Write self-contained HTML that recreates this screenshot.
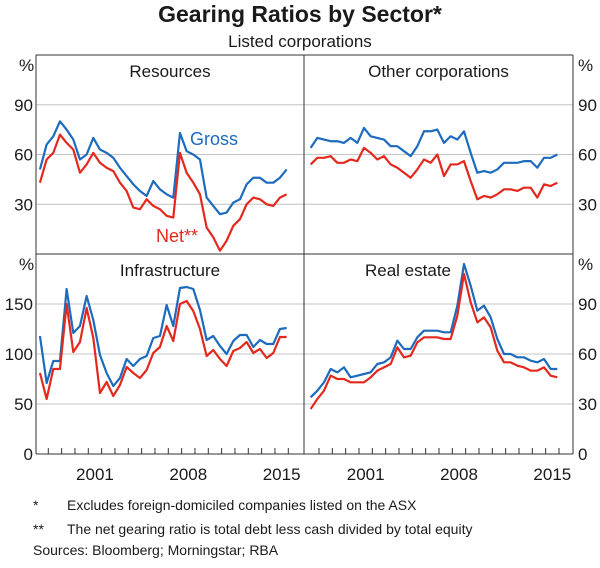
<!DOCTYPE html>
<html><head><meta charset="utf-8"><style>
body{margin:0;background:#fff;}
svg text{font-family:"Liberation Sans",Arial,sans-serif;fill:#1a1a1a;}
</style></head><body>
<svg id="chart" width="600" height="563" viewBox="0 0 600 563" xmlns="http://www.w3.org/2000/svg">
<text x="300" y="22" text-anchor="middle" font-size="23" font-weight="bold">Gearing Ratios by Sector*</text>
<text x="300" y="47" text-anchor="middle" font-size="17">Listed corporations</text>
<g id="grid"></g>
<g id="series"></g>
<g id="frame"></g>
<g id="labels"></g>
<text x="33" y="510" font-size="14">*</text>
<text x="67" y="510" font-size="14">Excludes foreign-domiciled companies listed on the ASX</text>
<text x="33" y="534" font-size="14">**</text>
<text x="67" y="534" font-size="14">The net gearing ratio is total debt less cash divided by total equity</text>
<text x="33" y="555" font-size="14">Sources:  Bloomberg; Morningstar; RBA</text>
</svg>
<script>
const startYear = 1997.375;
const yearLabels = [2001, 2008, 2015];
const ticksTop = [30, 60, 90];
const ticksInfra = [0, 50, 100, 150];
const ticksReal = [0, 30, 60, 90];
const resGross = [51,66,71,80,75,69,57,60,70,63,61,58,52,47,42,38,35,44,39,36,34,73,62,60,57,34,29,24,25,31,33,42,46,46,43,43,46,51];
const resNet = [43,57,61,72,67,63,49,54,61,55,52,50,43,38,28,27,33,29,27,23,22,61,49,43,36,16,10,2,8,17,21,30,34,33,30,29,34,36];
const othGross = [64,70,69,68,68,67,70,67,76,71,70,69,65,65,62,59,65,74,74,75,67,71,69,74,61,49,50,49,51,55,55,55,56,56,52,58,58,60];
const othNet = [54,58,58,59,55,55,57,56,64,61,57,59,54,52,49,46,51,57,55,60,47,54,54,56,44,33,35,34,36,39,39,38,40,40,34,42,41,43];
const infGross = [118,71,93,93,165,121,128,158,134,99,81,68,76,95,88,95,98,116,118,149,128,166,167,165,144,114,118,108,100,113,119,119,107,114,110,110,125,126];
const infNet = [81,55,85,85,150,102,112,146,116,61,72,58,69,87,81,76,84,101,107,128,113,150,153,143,125,98,104,95,88,103,106,112,101,105,96,101,117,117];
const reGross = [34,38,43,51,49,52,46,47,48,49,54,55,58,68,63,63,70,74,74,74,73,73,89,114,101,86,89,82,69,60,60,58,58,56,55,57,51,51];
const reNet = [27,33,38,47,45,45,43,43,43,46,50,52,54,64,58,59,67,70,70,70,69,69,83,108,91,79,82,76,62,55,55,53,52,50,50,52,47,46];

const NS="http://www.w3.org/2000/svg";
const BLUE="#1d6bbd", RED="#e4281e";
const L=36, M=304, R=573, T=55, H=254, B=454;
function mk(tag, attrs, parent){const e=document.createElementNS(NS,tag);for(const k in attrs)e.setAttribute(k,attrs[k]);parent.appendChild(e);return e;}
function xScale(t, left){return left + 12.3 + (t-1998)*13.333;}
function yScale(v, top, bottom, max){return bottom - v/max*(bottom-top);}
const panels=[
 {name:"resources", title:"Resources", left:L, right:M, top:T, bottom:H, max:120, g:resGross, n:resNet, ticks:ticksTop},
 {name:"other-corporations", title:"Other corporations", left:M, right:R, top:T, bottom:H, max:120, g:othGross, n:othNet, ticks:ticksTop},
 {name:"infrastructure", title:"Infrastructure", left:L, right:M, top:H, bottom:B, max:200, g:infGross, n:infNet, ticks:ticksInfra},
 {name:"real-estate", title:"Real estate", left:M, right:R, top:H, bottom:B, max:120, g:reGross, n:reNet, ticks:ticksReal}
];
const grid=document.getElementById('grid'), ser=document.getElementById('series'), fr=document.getElementById('frame'), lab=document.getElementById('labels');
panels.forEach(p=>{
  p.ticks.forEach(v=>{ if(v===0) return;
    const y=yScale(v,p.top,p.bottom,p.max);
    const ln=mk('line',{x1:p.left,x2:p.right,y1:y,y2:y,stroke:"#c4c4c4","stroke-width":1},grid);
    
    
  });
  [[p.g,BLUE,'gross'],[p.n,RED,'net']].forEach(([arr,col,nm])=>{
    const xo = p.left===L ? 0 : 2.7;
    const pts=arr.map((v,i)=>xScale(startYear+0.5*i,p.left)+xo+','+yScale(v,p.top,p.bottom,p.max)).join(' ');
    const pl=mk('polyline',{points:pts,fill:"none",stroke:col,"stroke-width":2.2,"stroke-linejoin":"round"},ser);
    
    
  });
  const t=mk('text',{x:(p.left+p.right)/2,y:p.top+22,"text-anchor":"middle","font-size":17},lab);
  t.textContent=p.title;
  
  
  if(p.name==='real-estate'){ t.setAttribute('x', 408); }
});
// frame
[[L,T,R,T],[L,B,R,B],[L,T,L,B],[R,T,R,B],[M,T,M,B],[L,H,R,H]].forEach(c=>{
  const ln=mk('line',{x1:c[0],y1:c[1],x2:c[2],y2:c[3],stroke:"#333","stroke-width":1},fr);
  
  
});
// x ticks
[L,M].forEach(left=>{
  const xo = left===L ? 0 : 2.7;
  for(let yr=1998; yr<=2016; yr++){
    const x=xScale(yr,left)+xo;
    const tk=mk('line',{x1:x,x2:x,y1:B-6,y2:B,stroke:"#333","stroke-width":1},fr);
    
    
  }
  yearLabels.forEach(yr=>{
    const tx=mk('text',{x:xScale(yr+0.5,left)+xo,y:480,"text-anchor":"middle","font-size":17},lab);
    tx.textContent=yr;
    
    
  });
});
// y labels
panels.forEach(p=>{
  const isLeft=p.left===L;
  const ax=isLeft?33:578;
  p.ticks.forEach(v=>{
    if(v===0 && p.top===T) return;
    const tx=mk('text',{x:ax,y:yScale(v,p.top,p.bottom,p.max)+6,"text-anchor":isLeft?"end":"start","font-size":17},lab);
    tx.textContent=v;
    
    
  });
  const pc=mk('text',{x:isLeft?19:578,y:p.top+16,"font-size":17},lab);
  pc.textContent='%';
  
  
});
const gl=mk('text',{x:190,y:145,"font-size":18,fill:BLUE},lab);
gl.textContent='Gross';


gl.style.fill=BLUE;
const nl=mk('text',{x:156,y:242,"font-size":18,fill:RED},lab);
nl.textContent='Net**';


nl.style.fill=RED;
</script>
</body></html>
